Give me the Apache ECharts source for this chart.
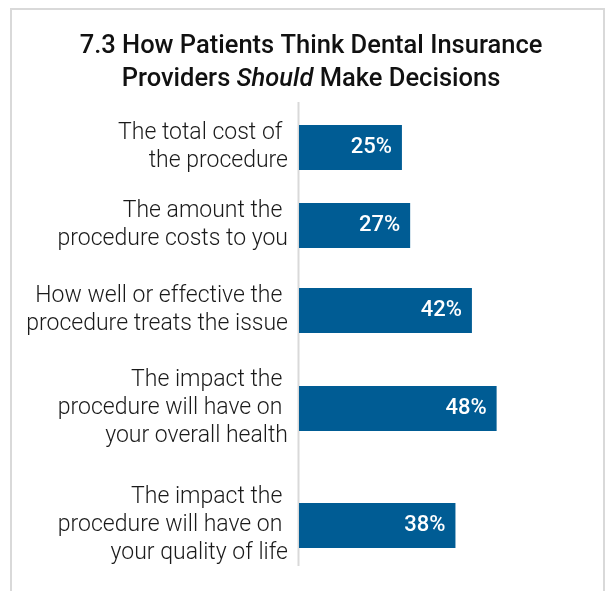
<!DOCTYPE html>
<html>
<head>
<meta charset="utf-8">
<script src="https://cdn.jsdelivr.net/npm/echarts@6/dist/echarts.min.js"></script>
<style>html,body{margin:0;padding:0;background:#fff;}#c{width:606px;height:591px;}</style>
</head>
<body>
<div id="c"></div>
<script>
const categories = [
  "The total cost of \nthe procedure",
  "The amount the \nprocedure costs to you",
  "How well or effective the \nprocedure treats the issue",
  "The impact the \nprocedure will have on \nyour overall health",
  "The impact the \nprocedure will have on \nyour quality of life"
];
const values = [25, 27, 42, 48, 38];
const titleLine1 = "7.3 How Patients Think Dental Insurance";
const titleLine2a = "Providers ";
const titleItalic = "Should";
const titleLine2b = " Make Decisions";

// layout (pixel positions of each row's band)
const rowCenters = [147.5, 225.5, 310.5, 408.5, 525.5];
const barH = 45;
const FONT = 'Roboto';

const grids = [], xAxes = [], yAxes = [], series = [];
categories.forEach((cat, i) => {
  grids.push({left: 299, width: 288.2, top: rowCenters[i] - barH / 2, height: barH, containLabel: false});
  xAxes.push({type: 'value', gridIndex: i, min: 0, max: 70, show: false});
  yAxes.push({
    type: 'category', gridIndex: i, data: [cat],
    axisLine: {show: false}, axisTick: {show: false}, splitLine: {show: false},
    axisLabel: {fontFamily: FONT, fontSize: 23, fontWeight: 300, lineHeight: 28, color: '#1a1a1a', margin: 11, align: 'right'}
  });
  series.push({
    type: 'bar', xAxisIndex: i, yAxisIndex: i, data: [values[i]],
    barWidth: barH, itemStyle: {color: '#005c94'},
    label: {show: true, position: 'insideRight', distance: 10, formatter: '{c}%',
      color: '#fff', fontFamily: FONT, fontSize: 22, fontWeight: 500},
    silent: true, animation: false
  });
});

const chart = echarts.init(document.getElementById('c'), null, {renderer: 'canvas'});
chart.setOption({
  animation: false,
  backgroundColor: '#fff',
  title: {
    left: 306, top: 25, textAlign: 'center',
    text: titleLine1 + '\n' + titleLine2a + '{i|' + titleItalic + '}' + titleLine2b,
    textStyle: {
      fontFamily: FONT, fontSize: 25.5, fontWeight: 500, color: '#111', lineHeight: 33, align: 'center',
      rich: {i: {fontFamily: FONT, fontSize: 25.5, fontWeight: 500, fontStyle: 'italic', color: '#111', lineHeight: 33}}
    }
  },
  graphic: [
    {type: 'rect', shape: {x: 11, y: 9, width: 593, height: 620}, style: {fill: 'none', stroke: '#d9d9d9', lineWidth: 2}, silent: true},
    {type: 'line', shape: {x1: 298.5, y1: 102, x2: 298.5, y2: 566}, style: {stroke: '#d9d9d9', lineWidth: 2}, silent: true}
  ],
  grid: grids, xAxis: xAxes, yAxis: yAxes, series: series
});
</script>
</body>
</html>
